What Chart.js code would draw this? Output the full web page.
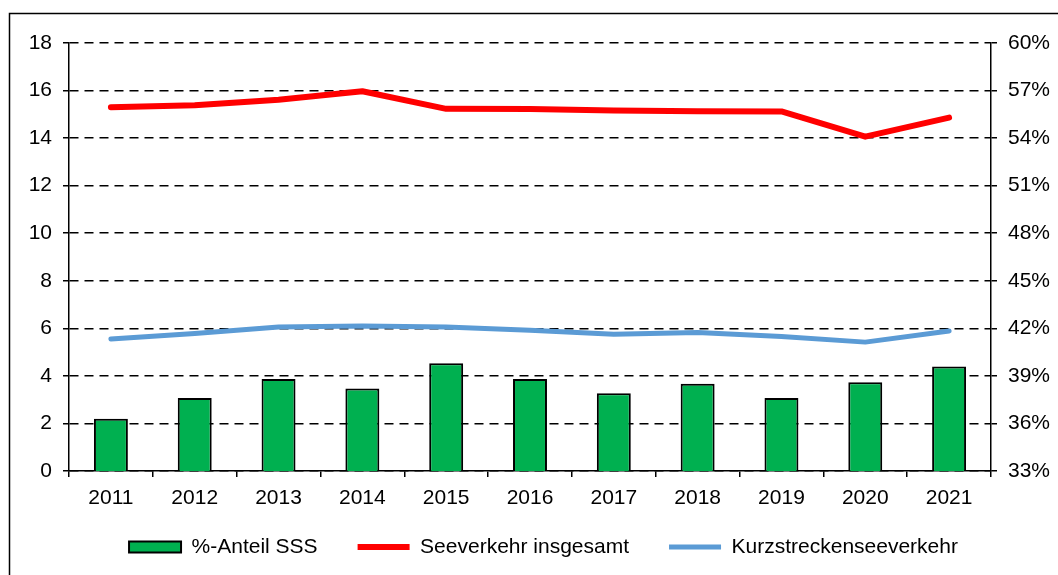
<!DOCTYPE html>
<html>
<head>
<meta charset="utf-8">
<script src="https://cdn.jsdelivr.net/npm/chart.js@4"></script>
<style>
  html, body { margin: 0; padding: 0; background: #fff; }
  #wrap { width: 1058px; height: 575px; }
</style>
</head>
<body>
<div id="wrap"><canvas id="chart" width="1058" height="575"></canvas></div>
<script>
const years = ['2011', '2012', '2013', '2014', '2015', '2016', '2017', '2018', '2019', '2020', '2021'];
const anteilSSS = [36.3, 37.6, 38.8, 38.2, 39.8, 38.8, 37.9, 38.5, 37.6, 38.6, 39.6];
const seeverkehr = [15.30, 15.38, 15.61, 15.97, 15.23, 15.22, 15.16, 15.13, 15.12, 14.06, 14.86];
const kurzstrecke = [5.55, 5.78, 6.06, 6.10, 6.06, 5.92, 5.75, 5.82, 5.66, 5.42, 5.89];

const FONT = '"Liberation Sans", Arial, sans-serif';
Chart.defaults.font.family = FONT;
Chart.defaults.font.size = 21;
Chart.defaults.color = '#000';

// outer frame (only top and left edge are visible in the picture)
const frame = {
  id: 'frame',
  beforeDraw(chart) {
    const c = chart.ctx;
    c.save();
    c.fillStyle = '#fff';
    c.fillRect(0, 0, chart.width, chart.height);
    c.strokeStyle = '#000';
    c.lineWidth = 1.5;
    c.beginPath();
    c.moveTo(9.5, chart.height);
    c.lineTo(9.5, 13.5);
    c.lineTo(chart.width, 13.5);
    c.stroke();
    c.restore();
  }
};

var ctx = document.getElementById('chart').getContext('2d');
var chart = new Chart(ctx, {
  type: 'bar',
  data: {
    labels: years,
    datasets: [{
      type: 'bar',
      label: '%-Anteil SSS',
      data: anteilSSS,
      yAxisID: 'y1',
      backgroundColor: '#00B050',
      borderColor: '#000',
      borderWidth: 2,
      categoryPercentage: 1,
      barPercentage: 0.405,
      pointStyle: 'rect'
    }, {
      type: 'line',
      label: 'Seeverkehr insgesamt',
      data: seeverkehr,
      yAxisID: 'y',
      borderColor: '#FF0000',
      backgroundColor: '#FF0000',
      borderWidth: 6,
      borderCapStyle: 'round',
      borderJoinStyle: 'round',
      pointRadius: 0,
      pointStyle: 'line',
      tension: 0
    }, {
      type: 'line',
      label: 'Kurzstreckenseeverkehr',
      data: kurzstrecke,
      yAxisID: 'y',
      borderColor: '#5B9BD5',
      backgroundColor: '#5B9BD5',
      borderWidth: 5,
      borderCapStyle: 'round',
      borderJoinStyle: 'round',
      pointRadius: 0,
      pointStyle: 'line',
      tension: 0
    }]
  },
  options: {
    responsive: false,
    animation: false,
    layout: { padding: { top: 43, left: 29, right: 0, bottom: 7.5 } },
    plugins: {
      tooltip: { enabled: false },
      legend: {
        position: 'bottom',
        labels: {
          usePointStyle: true,
          pointStyleWidth: 52,
          boxHeight: 11,
          padding: 40,
          color: '#000',
          font: { size: 21 }
        }
      }
    },
    scales: {
      x: {
        offset: true,
        grid: { display: true, drawOnChartArea: false, drawTicks: true, tickLength: 6, color: '#000', lineWidth: 1.5, offset: true },
        border: { display: true, color: '#000', width: 1.5 },
        ticks: { padding: 9, color: '#000', maxRotation: 0, autoSkip: false },
        afterFit(s) {
          s.height = 25.5;
          // let the year labels reach below the thin axis box
          s._computeLabelArea = () => undefined;
        }
      },
      y: {
        position: 'left',
        min: 0,
        max: 18,
        grid: { color: '#000', lineWidth: 1.5, tickLength: 6, tickBorderDash: [], drawTicks: true },
        border: { display: true, color: '#000', width: 1.5, dash: [9, 6] },
        ticks: { stepSize: 2, padding: 11, color: '#000' },
        afterFit(s) { s.width = 40; }
      },
      y1: {
        position: 'right',
        min: 33,
        max: 60,
        grid: { drawOnChartArea: false, drawTicks: true, tickLength: 6, color: '#000', lineWidth: 1.5 },
        border: { display: true, color: '#000', width: 1.5 },
        ticks: { stepSize: 3, padding: 11, color: '#000', callback: v => v + '%' },
        afterFit(s) { s.width = 67; }
      }
    }
  },
  plugins: [frame]
});
</script>
</body>
</html>
